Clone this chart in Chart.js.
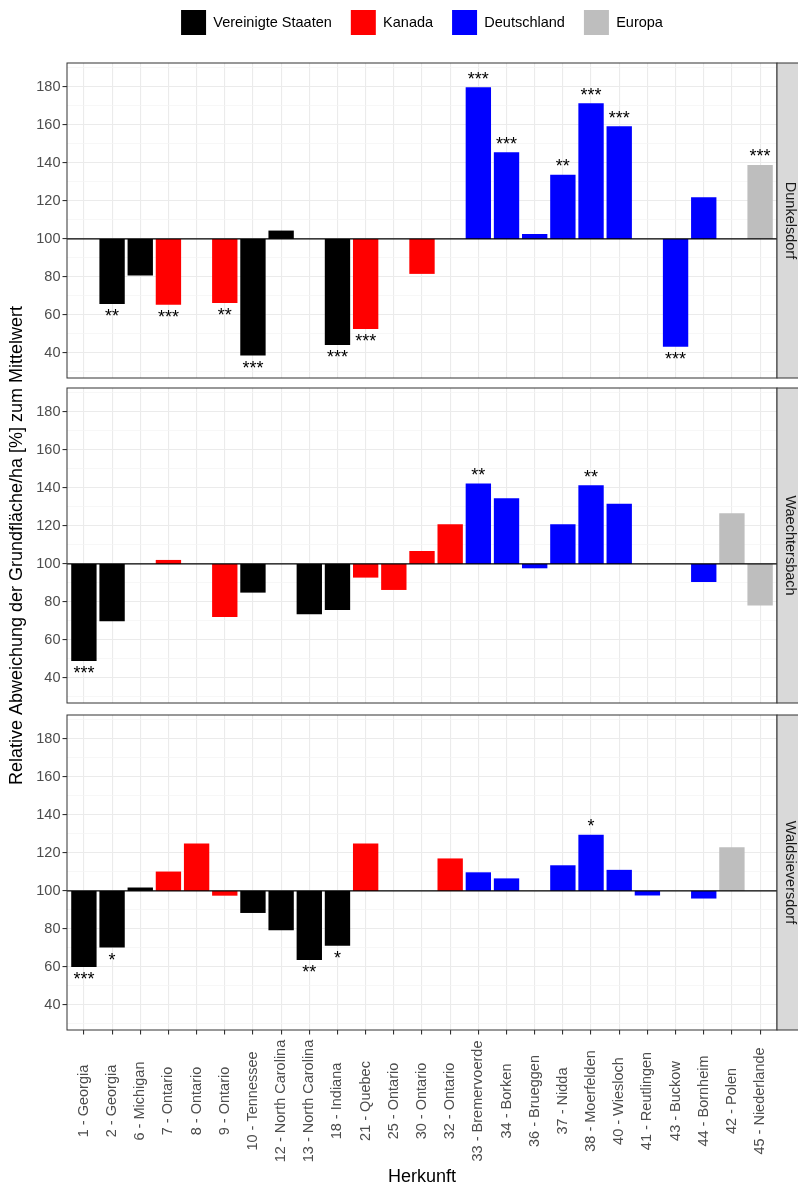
<!DOCTYPE html>
<html>
<head>
  <meta charset="utf-8">
  <title>Relative Abweichung der Grundfläche/ha</title>
  <script src="https://cdn.jsdelivr.net/npm/chart.js"></script>
  <style>
    body { margin: 0; background: #fff; }
    #wrap { position: relative; width: 798px; height: 1189px; }
    #wrap canvas { position: absolute; left: 0; }
  </style>
</head>
<body>
<div id="wrap">
  <canvas id="c1" width="798" height="395" style="top:0px"></canvas>
  <canvas id="c3" width="798" height="489" style="top:700px"></canvas>
  <canvas id="c2" width="798" height="490" style="top:300px"></canvas>
</div>
<script>
  const herkunft = ['1 - Georgia', '2 - Georgia', '6 - Michigan', '7 - Ontario', '8 - Ontario', '9 - Ontario',
    '10 - Tennessee', '12 - North Carolina', '13 - North Carolina', '18 - Indiana', '21 - Quebec', '25 - Ontario',
    '30 - Ontario', '32 - Ontario', '33 - Bremervoerde', '34 - Borken', '36 - Brueggen', '37 - Nidda',
    '38 - Moerfelden', '40 - Wiesloch', '41 - Reutlingen', '43 - Buckow', '44 - Bornheim', '42 - Polen',
    '45 - Niederlande'];
  // 0 = Vereinigte Staaten, 1 = Kanada, 2 = Deutschland, 3 = Europa
  const gruppe = [0, 0, 0, 1, 1, 1, 0, 0, 0, 0, 1, 1, 1, 1, 2, 2, 2, 2, 2, 2, 2, 2, 2, 3, 3];
  const gruppen = ['Vereinigte Staaten', 'Kanada', 'Deutschland', 'Europa'];
  const farben = ['#000000', '#FF0000', '#0000FF', '#BEBEBE'];

  const yMajor = [40, 60, 80, 100, 120, 140, 160, 180];
  const yMinor = [30, 50, 70, 90, 110, 130, 150, 170, 190];

  const dunkelsdorf = [null, 65.8, 80.7, 65.3, null, 66.3, 38.6, 104.4, null, 44.2, 52.6, null, 81.6, null,
    179.8, 145.6, 102.6, 133.8, 171.4, 159.3, null, 43.3, 121.9, null, 138.9];
  const dunkelsdorfSig = ['', '**', '', '***', '', '**', '***', '', '', '***', '***', '', '', '',
    '***', '***', '', '**', '***', '***', '', '***', '', '', '***'];

  const waechtersbach = [48.9, 69.8, null, 102.1, null, 72.1, 84.9, null, 73.5, 75.8, 92.8, 86.3, 106.8, 120.9,
    142.3, 134.6, 97.7, 120.9, 141.4, 131.7, null, null, 90.5, 126.7, 78.1];
  const waechtersbachSig = ['***', '', '', '', '', '', '', '', '', '', '', '', '', '',
    '**', '', '', '', '**', '', '', '', '', '', ''];

  const waldsieversdorf = [60.0, 70.2, 101.8, 110.2, 124.9, 97.5, 88.4, 79.3, 63.7, 71.2, 124.9, null, null, 117.1,
    109.8, 106.6, null, 113.5, 129.6, 111.1, 97.6, null, 96.0, 123.0, null];
  const waldsieversdorfSig = ['***', '*', '', '', '', '', '', '', '**', '*', '', '', '', '',
    '', '', '', '', '*', '', '', '', '', '', ''];

  const FONT = "'Liberation Sans', Arial, sans-serif";
  Chart.defaults.font.family = FONT;

  function makePanel(id, opts) {
    const data = [];
    const colors = [];
    opts.values.forEach((v, i) => {
      if (v === null) return;
      data.push({x: i + 1, y: [100, v]});
      colors.push(farben[gruppe[i]]);
    });

    const facet = {
      id: 'facet',
      beforeInit(chart) {
        if (!opts.legend) return;
        const lg = chart.legend;
        const fit = lg.fit;
        lg.fit = function() { fit.call(this); this.height = 63; };
      },
      afterLayout(chart) {
        if (!opts.legend) return;
        chart.legend.top -= 9;
        chart.legend.bottom -= 9;
      },
      afterDatasetsDraw(chart) {
        const {ctx, chartArea: a, scales: {x, y}} = chart;
        ctx.save();
        // Bezugslinie bei 100
        const y100 = y.getPixelForValue(100);
        ctx.strokeStyle = '#000';
        ctx.lineWidth = 1.2;
        ctx.beginPath();
        ctx.moveTo(a.left, y100);
        ctx.lineTo(a.right, y100);
        ctx.stroke();

        // Signifikanzsterne
        ctx.font = '18px ' + FONT;
        ctx.fillStyle = '#000';
        ctx.textAlign = 'center';
        ctx.textBaseline = 'alphabetic';
        opts.sig.forEach((s, i) => {
          const v = opts.values[i];
          if (!s || v === null) return;
          const py = y.getPixelForValue(v);
          ctx.fillText(s, x.getPixelForValue(i + 1), v >= 100 ? py - 2.6 : py + 18);
        });

        // Rahmen
        ctx.strokeStyle = '#333333';
        ctx.lineWidth = 1;
        ctx.strokeRect(a.left, a.top, a.right - a.left, a.bottom - a.top);

        // Streifen rechts
        ctx.fillStyle = '#D9D9D9';
        ctx.fillRect(a.right, a.top, chart.width - a.right, a.bottom - a.top);
        ctx.strokeRect(a.right, a.top, 40, a.bottom - a.top);
        ctx.fillStyle = '#1A1A1A';
        ctx.font = '14.5px ' + FONT;
        ctx.textBaseline = 'middle';
        ctx.translate(790, (a.top + a.bottom) / 2);
        ctx.rotate(Math.PI / 2);
        ctx.fillText(opts.strip, 0, 0);
        ctx.restore();

        if (opts.bottom) {
          ctx.save();
          ctx.font = '14.5px ' + FONT;
          ctx.fillStyle = '#4D4D4D';
          ctx.textAlign = 'center';
          ctx.textBaseline = 'middle';
          herkunft.forEach((t, i) => {
            ctx.save();
            ctx.translate(x.getPixelForValue(i + 1), a.bottom + 71);
            ctx.rotate(-Math.PI / 2);
            ctx.fillText(t, 0, 0);
            ctx.restore();
          });
          ctx.restore();
        }
      }
    };

    const isMajor = c => c.tick && yMajor.includes(c.tick.value);

    return new Chart(document.getElementById(id), {
      type: 'bar',
      data: {
        datasets: [{
          label: opts.strip,
          data: data,
          backgroundColor: colors,
          borderWidth: 0,
          barPercentage: 0.9,
          categoryPercentage: 1
        }]
      },
      options: {
        responsive: false,
        animation: false,
        layout: { padding: { top: opts.padTop, bottom: opts.padBottom, left: 0, right: 21 } },
        plugins: {
          legend: {
            display: !!opts.legend,
            fullSize: false,
            labels: {
              boxWidth: 25,
              boxHeight: 25,
              padding: 19,
              color: '#000',
              font: { size: 14.5 },
              generateLabels: () => gruppen.map((g, i) => ({
                text: g, fillStyle: farben[i], strokeStyle: farben[i], lineWidth: 0, hidden: false
              }))
            }
          },
          tooltip: { enabled: false }
        },
        scales: {
          x: {
            type: 'linear',
            min: 0.4,
            max: 25.6,
            offset: false,
            afterBuildTicks: s => { s.ticks = herkunft.map((h, i) => ({ value: i + 1 })); },
            afterFit: s => { s.height = opts.xHeight; },
            ticks: { display: false, autoSkip: false },
            grid: {
              offset: false, color: '#EBEBEB', lineWidth: 1.1,
              drawTicks: !!opts.bottom, tickLength: 4.5, tickColor: '#333333'
            },
            border: { display: false },
            title: {
              display: !!opts.bottom, text: 'Herkunft', color: '#000',
              font: { size: 18 }, padding: { top: 0, bottom: 1.2 }
            }
          },
          y: {
            min: 26.8,
            max: 192.6,
            afterBuildTicks: s => {
              s.ticks = yMinor.concat(yMajor).sort((a, b) => a - b).map(v => ({ value: v }));
            },
            afterFit: s => { s.width = 67; },
            ticks: {
              autoSkip: false, color: '#4D4D4D', font: { size: 14.5 }, padding: 2,
              callback: v => yMajor.includes(v) ? v : ''
            },
            grid: {
              color: c => isMajor(c) ? '#EBEBEB' : '#F3F3F3',
              lineWidth: c => isMajor(c) ? 1.1 : 0.7,
              tickLength: 4.5,
              tickColor: c => isMajor(c) ? '#333333' : 'rgba(0,0,0,0)'
            },
            border: { display: false },
            title: {
              display: !!opts.yTitle,
              text: 'Relative Abweichung der Grundfläche/ha [%] zum Mittelwert',
              color: '#000', font: { size: 18 }, padding: { top: 6.2, bottom: 0 }
            }
          }
        }
      },
      plugins: [facet]
    });
  }

  makePanel('c1', { values: dunkelsdorf, sig: dunkelsdorfSig, strip: 'Dunkelsdorf',
    legend: true, padTop: 0, padBottom: 17, xHeight: 0 });
  makePanel('c3', { values: waldsieversdorf, sig: waldsieversdorfSig, strip: 'Waldsieversdorf',
    bottom: true, padTop: 15, padBottom: 0, xHeight: 159 });
  makePanel('c2', { values: waechtersbach, sig: waechtersbachSig, strip: 'Waechtersbach',
    yTitle: true, padTop: 88, padBottom: 87, xHeight: 0 });
</script>
</body>
</html>
